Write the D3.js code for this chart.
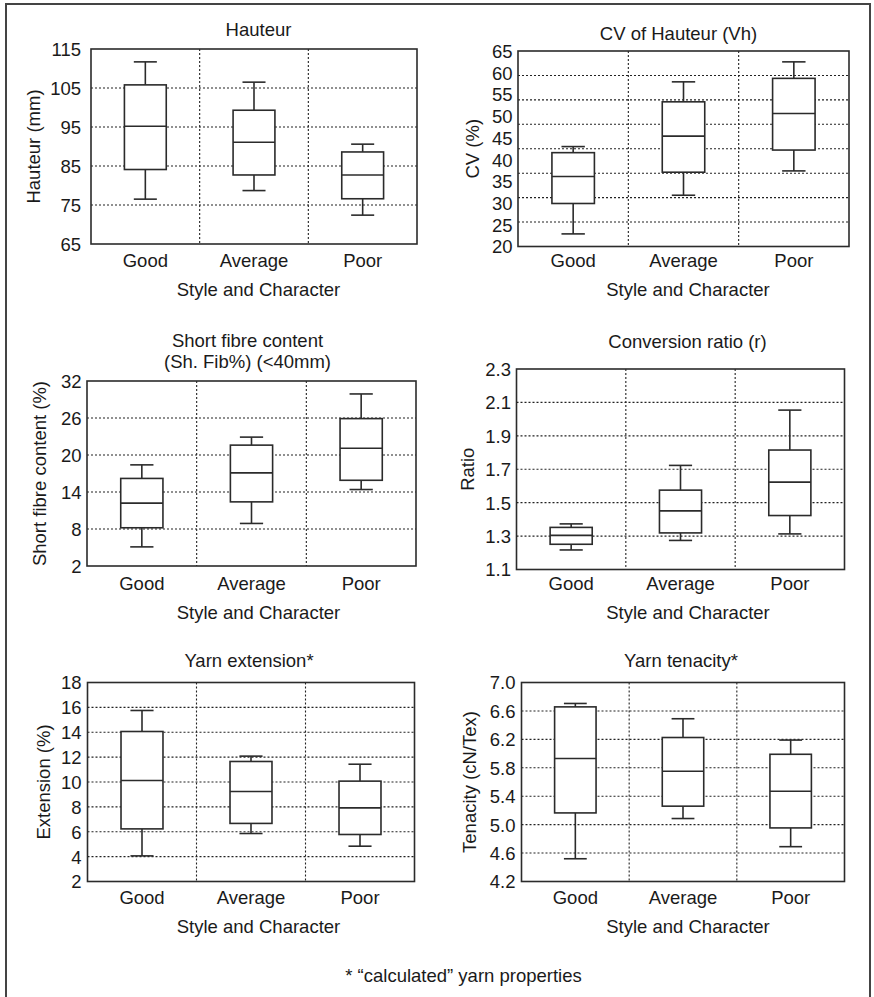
<!DOCTYPE html>
<html>
<head>
<meta charset="utf-8">
<script src="https://cdn.jsdelivr.net/npm/d3@7"></script>
<style>
  html, body { margin: 0; padding: 0; background: #fff; }
  svg { display: block; }
  text { font-family: "Liberation Sans", Arial, Helvetica, sans-serif; fill: #1a1a1a; }
</style>
</head>
<body>
<svg id="chart" width="874" height="997"></svg>
<script>
// ---------- data ----------
const categories = ["Good", "Average", "Poor"];

// five-number summaries per category: [whisker low, Q1, median, Q3, whisker high]
const hauteurStats = [[76.5, 84.1, 95.2, 105.8, 111.7], [78.7, 82.7, 91.1, 99.3, 106.5], [72.4, 76.6, 82.7, 88.6, 90.6]];
const cvStats = [[22.9, 29.9, 36.1, 41.6, 43.0], [31.8, 37.1, 45.4, 53.3, 57.9], [37.4, 42.2, 50.6, 58.7, 62.5]];
const shortFibreStats = [[5.1, 8.2, 12.2, 16.2, 18.4], [8.9, 12.4, 17.1, 21.6, 22.9], [14.4, 15.9, 21.1, 25.9, 29.9]];
const ratioStats = [[1.217, 1.251, 1.304, 1.352, 1.373], [1.274, 1.319, 1.451, 1.575, 1.723], [1.313, 1.423, 1.623, 1.815, 2.054]];
const extensionStats = [[4.06, 6.23, 10.12, 14.06, 15.75], [5.86, 6.67, 9.24, 11.65, 12.08], [4.84, 5.78, 7.92, 10.07, 11.43]];
const tenacityStats = [[4.52, 5.165, 5.93, 6.657, 6.705], [5.086, 5.26, 5.752, 6.226, 6.49], [4.69, 4.954, 5.47, 5.99, 6.19]];

// tick labels
const hauteurTicks = [65, 75, 85, 95, 105, 115];
const cvTicks = [20, 25, 30, 35, 40, 45, 50, 55, 60, 65];
const shortFibreTicks = [2, 8, 14, 20, 26, 32];
const ratioTicks = [1.1, 1.3, 1.5, 1.7, 1.9, 2.1, 2.3];
const extensionTicks = [2, 4, 6, 8, 10, 12, 14, 16, 18];
const tenacityTicks = [4.2, 4.6, 5.0, 5.4, 5.8, 6.2, 6.6, 7.0];

// horizontal dotted grid values
const hauteurGrid = [75, 85, 95, 105];
const cvGrid = [25.625, 31.25, 36.875, 42.5, 48.125, 53.75, 59.375];
const shortFibreGrid = [8, 14, 20, 26];
const ratioGrid = [1.3, 1.5, 1.7, 1.9, 2.1];
const extensionGrid = [4, 6, 8, 10, 12, 14, 16];
const tenacityGrid = [4.6, 5.0, 5.4, 5.8, 6.2, 6.6];

const titles = [["Hauteur"], ["CV of Hauteur (Vh)"], ["Short fibre content", "(Sh. Fib%) (<40mm)"], ["Conversion ratio (r)"], ["Yarn extension*"], ["Yarn tenacity*"]];
const yLabels = ["Hauteur (mm)", "CV (%)", "Short fibre content (%)", "Ratio", "Extension (%)", "Tenacity (cN/Tex)"];
const xLabel = "Style and Character";
const footnote = "* \u201Ccalculated\u201D yarn properties";

// ---------- layout ----------
const panels = [
  { stats: hauteurStats, ticks: hauteurTicks, grid: hauteurGrid, fmt: d3.format("d"),
    x0: 91, x1: 417, y0: 49, y1: 244, pad: 10, titleX: 258.5, titleY: [35.5], yLabX: 40, xTickY: 267, xLabX: 258.5, xLabY: 295.5 },
  { stats: cvStats, ticks: cvTicks, grid: cvGrid, fmt: d3.format("d"),
    x0: 518, x1: 849, y0: 51, y1: 246.5, pad: 5.5, titleX: 678.5, titleY: [39.5], yLabX: 479, xTickY: 267, xLabX: 688, xLabY: 295.5 },
  { stats: shortFibreStats, ticks: shortFibreTicks, grid: shortFibreGrid, fmt: d3.format("d"),
    x0: 87, x1: 416, y0: 381, y1: 566, pad: 5.5, titleX: 247.5, titleY: [346.5, 367.5], yLabX: 45.5, xTickY: 590, xLabX: 258.5, xLabY: 618.5 },
  { stats: ratioStats, ticks: ratioTicks, grid: ratioGrid, fmt: d3.format(".1f"),
    x0: 516.5, x1: 844.5, y0: 369, y1: 569.5, pad: 5.5, titleX: 687.5, titleY: [347.5], yLabX: 473.5, xTickY: 590, xLabX: 688, xLabY: 618.5 },
  { stats: extensionStats, ticks: extensionTicks, grid: extensionGrid, fmt: d3.format("d"),
    x0: 87.5, x1: 414.5, y0: 682.5, y1: 881.5, pad: 6, titleX: 249, titleY: [666.5], yLabX: 50, xTickY: 904, xLabX: 258.5, xLabY: 932.5 },
  { stats: tenacityStats, ticks: tenacityTicks, grid: tenacityGrid, fmt: d3.format(".1f"),
    x0: 521.5, x1: 844.5, y0: 682.5, y1: 881.5, pad: 6, titleX: 681, titleY: [666.5], yLabX: 476, xTickY: 904, xLabX: 688, xLabY: 932.5 }
];

const FONT = 18.5;
const INK = "#2b2b2b";
const svg = d3.select("#chart");

// outer frame (open at bottom)
svg.append("path")
  .attr("d", "M6,1000V4H870V1000")
  .attr("fill", "none").attr("stroke", "#444").attr("stroke-width", 2);

panels.forEach((p, i) => {
  const g = svg.append("g");
  const x = d3.scaleBand().domain(categories).range([p.x0, p.x1]).paddingInner(0).paddingOuter(0);
  const y = d3.scaleLinear().domain([p.ticks[0], p.ticks[p.ticks.length - 1]]).range([p.y1, p.y0]);

  // horizontal dotted grid
  g.append("g").selectAll("line").data(p.grid).join("line")
    .attr("x1", p.x0).attr("x2", p.x1)
    .attr("y1", d => y(d)).attr("y2", d => y(d))
    .attr("stroke", "#222").attr("stroke-width", 1.1).attr("stroke-dasharray", "2,2");

  // vertical dotted grid at category boundaries
  g.append("g").selectAll("line").data(categories.slice(1)).join("line")
    .attr("x1", d => x(d)).attr("x2", d => x(d))
    .attr("y1", p.y0).attr("y2", p.y1)
    .attr("stroke", "#222").attr("stroke-width", 1.1).attr("stroke-dasharray", "2,2");

  // boxes
  const bw = x.bandwidth() * 0.385;
  const cw = x.bandwidth() * 0.212;
  const bx = g.append("g").selectAll("g").data(p.stats).join("g")
    .attr("transform", (d, k) => `translate(${x(categories[k]) + x.bandwidth() / 2},0)`);
  bx.append("line").attr("x1", 0).attr("x2", 0).attr("y1", d => y(d[3])).attr("y2", d => y(d[4]))
    .attr("stroke", INK).attr("stroke-width", 1.6);
  bx.append("line").attr("x1", 0).attr("x2", 0).attr("y1", d => y(d[0])).attr("y2", d => y(d[1]))
    .attr("stroke", INK).attr("stroke-width", 1.6);
  bx.append("line").attr("x1", -cw / 2).attr("x2", cw / 2).attr("y1", d => y(d[4])).attr("y2", d => y(d[4]))
    .attr("stroke", INK).attr("stroke-width", 1.6);
  bx.append("line").attr("x1", -cw / 2).attr("x2", cw / 2).attr("y1", d => y(d[0])).attr("y2", d => y(d[0]))
    .attr("stroke", INK).attr("stroke-width", 1.6);
  bx.append("rect").attr("x", -bw / 2).attr("width", bw)
    .attr("y", d => y(d[3])).attr("height", d => y(d[1]) - y(d[3]))
    .attr("fill", "#fff").attr("stroke", INK).attr("stroke-width", 1.6);
  bx.append("line").attr("x1", -bw / 2).attr("x2", bw / 2).attr("y1", d => y(d[2])).attr("y2", d => y(d[2]))
    .attr("stroke", INK).attr("stroke-width", 1.6);

  // plot frame
  g.append("rect").attr("x", p.x0).attr("y", p.y0).attr("width", p.x1 - p.x0).attr("height", p.y1 - p.y0)
    .attr("fill", "none").attr("stroke", INK).attr("stroke-width", 1.6);

  // y axis (labels only)
  const ya = g.append("g").attr("transform", `translate(${p.x0},0)`)
    .call(d3.axisLeft(y).tickValues(p.ticks).tickFormat(p.fmt).tickSize(0).tickPadding(p.pad));
  ya.select(".domain").remove();
  ya.attr("font-family", null).attr("font-size", null);
  ya.selectAll("text").attr("font-size", FONT).attr("fill", "#1a1a1a").attr("dy", "0.35em");

  // x axis (labels only)
  const xa = g.append("g").attr("transform", `translate(0,${p.y1})`)
    .call(d3.axisBottom(x).tickSize(0));
  xa.select(".domain").remove();
  xa.attr("font-family", null).attr("font-size", null);
  xa.selectAll("text").attr("font-size", FONT).attr("fill", "#1a1a1a").attr("dy", 0).attr("y", p.xTickY - p.y1);

  // title
  titles[i].forEach((t, j) => {
    g.append("text").attr("x", p.titleX).attr("y", p.titleY[j]).attr("text-anchor", "middle")
      .attr("font-size", FONT).text(t);
  });

  // axis titles
  g.append("text").attr("x", p.xLabX).attr("y", p.xLabY).attr("text-anchor", "middle")
    .attr("font-size", FONT).text(xLabel);
  g.append("text").attr("transform", `translate(${p.yLabX},${(p.y0 + p.y1) / 2}) rotate(-90)`)
    .attr("text-anchor", "middle").attr("font-size", FONT).text(yLabels[i]);
});

svg.append("text").attr("x", 463.5).attr("y", 981.5).attr("text-anchor", "middle")
  .attr("font-size", FONT).text(footnote);
</script>
</body>
</html>
